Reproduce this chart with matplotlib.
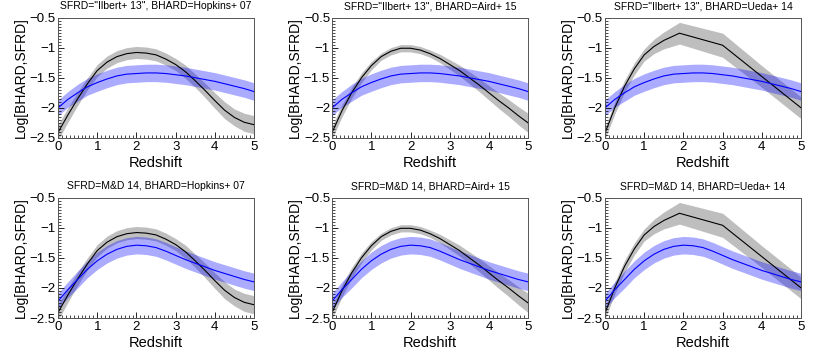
import numpy as np
import matplotlib.pyplot as plt
from matplotlib.ticker import MultipleLocator, FuncFormatter

plt.rcParams['font.family'] = ['Liberation Sans', 'DejaVu Sans']

# redshift grid for smooth curves
z_smooth = [0.0, 0.25, 0.5, 0.75, 1.0, 1.25, 1.5, 1.75, 2.0, 2.25, 2.5,
            2.75, 3.0, 3.25, 3.5, 3.75, 4.0, 4.25, 4.5, 4.75, 5.0]

# SFRD curves (blue)
sfrd_ilbert = [-2.00, -1.86, -1.75, -1.65, -1.58, -1.52, -1.47, -1.44, -1.43, -1.42, -1.42,
               -1.43, -1.45, -1.47, -1.50, -1.53, -1.56, -1.60, -1.64, -1.68, -1.73]
sfrd_ilbert_err = [0.13, 0.13, 0.14, 0.14, 0.145, 0.145, 0.145, 0.145, 0.145, 0.145, 0.145,
                   0.145, 0.145, 0.145, 0.145, 0.145, 0.145, 0.145, 0.145, 0.145, 0.145]
sfrd_md = [-2.22, -2.03, -1.86, -1.69, -1.55, -1.44, -1.36, -1.31, -1.29, -1.30, -1.33,
           -1.39, -1.46, -1.53, -1.59, -1.65, -1.71, -1.76, -1.81, -1.86, -1.90]
sfrd_md_err = [0.13, 0.13, 0.14, 0.14, 0.145, 0.145, 0.145, 0.145, 0.145, 0.145, 0.145,
               0.145, 0.145, 0.145, 0.145, 0.145, 0.145, 0.145, 0.145, 0.145, 0.145]

# BHARD curves (black)
bhard_hopkins = [-2.41, -2.12, -1.85, -1.60, -1.38, -1.24, -1.15, -1.10, -1.08, -1.09, -1.12,
                 -1.19, -1.28, -1.40, -1.55, -1.71, -1.88, -2.04, -2.16, -2.24, -2.28]
bhard_hopkins_err = [0.13, 0.12, 0.11, 0.10, 0.10, 0.10, 0.10, 0.10, 0.10, 0.10, 0.10,
                     0.10, 0.10, 0.11, 0.11, 0.12, 0.13, 0.14, 0.14, 0.15, 0.15]
bhard_aird = [-2.41, -2.05, -1.75, -1.50, -1.30, -1.15, -1.06, -1.01, -1.01, -1.04, -1.10,
              -1.18, -1.28, -1.38, -1.50, -1.62, -1.75, -1.88, -2.00, -2.13, -2.25]
bhard_aird_err = [0.11, 0.10, 0.09, 0.08, 0.07, 0.06, 0.06, 0.06, 0.06, 0.06, 0.06,
                  0.07, 0.08, 0.09, 0.10, 0.11, 0.12, 0.13, 0.14, 0.15, 0.16]

z_ueda = [0.0, 0.25, 0.5, 0.75, 1.0, 1.25, 1.5, 1.9, 3.0, 4.0, 5.0]
bhard_ueda = [-2.42, -2.00, -1.64, -1.35, -1.12, -0.98, -0.88, -0.76, -0.96, -1.48, -2.00]
bhard_ueda_err = [0.10, 0.10, 0.10, 0.10, 0.10, 0.12, 0.14, 0.18, 0.20, 0.18, 0.18]

sfrd_names = ['"Ilbert+ 13"', 'M&D 14']
bhard_names = ['Hopkins+ 07', 'Aird+ 15', 'Ueda+ 14']

sfrd_list = [(sfrd_ilbert, sfrd_ilbert_err), (sfrd_md, sfrd_md_err)]
bhard_list = [(z_smooth, bhard_hopkins, bhard_hopkins_err),
              (z_smooth, bhard_aird, bhard_aird_err),
              (z_ueda, bhard_ueda, bhard_ueda_err)]

lefts = [0.0706, 0.404, 0.736]
bottoms = [0.607, 0.094]
width = 0.2385
height = 0.343


def fmt(v, pos):
    s = ('%.1f' % v).rstrip('0').rstrip('.')
    return s.replace('-', '\u2212')


fig = plt.figure(figsize=(8.22, 3.51), dpi=100)

for r in range(2):
    sf, sf_err = sfrd_list[r]
    sf = np.array(sf)
    sf_err = np.array(sf_err)
    for c in range(3):
        ax = fig.add_axes([lefts[c], bottoms[r], width, height])
        zb, bh, bh_err = bhard_list[c]
        bh = np.array(bh)
        bh_err = np.array(bh_err)

        ax.fill_between(zb, bh - bh_err, bh + bh_err, color='#bebebe', lw=0)
        ax.fill_between(z_smooth, sf - sf_err, sf + sf_err, color='blue', alpha=0.33, lw=0)
        ax.plot(zb, bh, color='black', lw=0.8)
        ax.plot(z_smooth, sf, color='blue', lw=0.8)

        ax.set_xlim(0, 5)
        ax.set_ylim(-2.5, -0.5)
        ax.xaxis.set_major_locator(MultipleLocator(1))
        ax.xaxis.set_minor_locator(MultipleLocator(0.1))
        ax.yaxis.set_major_locator(MultipleLocator(0.5))
        ax.yaxis.set_minor_locator(MultipleLocator(0.05))
        ax.yaxis.set_major_formatter(FuncFormatter(fmt))
        ax.tick_params(which='both', direction='in', labelsize=9.5)
        ax.tick_params(axis='x', pad=2.5)
        ax.tick_params(axis='y', pad=1.5)
        ax.tick_params(which='major', length=4, width=0.6)
        ax.tick_params(which='minor', length=2, width=0.5)
        for sp in ax.spines.values():
            sp.set_linewidth(0.7)
            sp.set_color('#555555')
        ax.set_xlabel('Redshift', fontsize=10.5, labelpad=2)
        ax.set_ylabel('Log[BHARD,SFRD]', fontsize=10, labelpad=1)
        ax.set_title('SFRD=%s, BHARD=%s' % (sfrd_names[r], bhard_names[c]),
                     fontsize=7.5, pad=6)

fig.savefig('out.png', dpi=100)
